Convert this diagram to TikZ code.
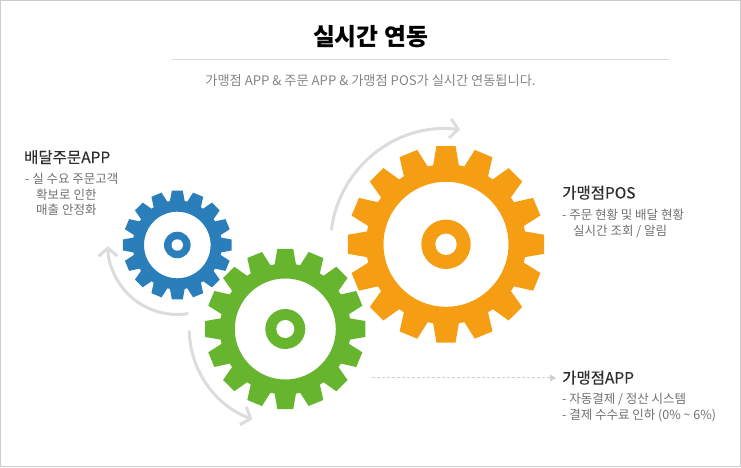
\documentclass[tikz,border=0pt]{standalone}
\usepackage{fontspec}
\setmainfont{Noto Sans CJK KR}
\newfontfamily\headfont[FakeBold=0.25]{Noto Sans CJK KR}
\usetikzlibrary{arrows.meta}
\definecolor{gblue}{HTML}{2A7FBA}
\definecolor{ggreen}{HTML}{67B52F}
\definecolor{gorange}{HTML}{F59E13}
\definecolor{arcgray}{HTML}{DCDCDC}
\definecolor{dashgray}{HTML}{CFCFCF}
\definecolor{framegray}{HTML}{CCCCCC}
\definecolor{bodygray}{HTML}{707070}
\definecolor{headdark}{HTML}{2E2E2E}
% #1 colour, #2 x, #3 y, #4 R tip, #5 r root, #6 half tip width, #7 half base width, #8 hole, #9 hub
\newcommand{\gearshape}[9]{%
  \pgfmathsetmacro{\tipang}{atan(#6/#4)}%
  \pgfmathsetmacro{\baseang}{atan(#7/#5)}%
  \fill[#1,even odd rule,shift={(#2,#3)}]
    (90-\baseang:#5)
    \foreach \k in {0,...,15}{
      \pgfextra{\pgfmathsetmacro{\aa}{90+22.5*\k}}
      -- (\aa-\baseang:#5) -- (\aa-\tipang:#4) -- (\aa+\tipang:#4) -- (\aa+\baseang:#5)
    } -- cycle
    (0,0) circle[radius=#8];
  \fill[#1,shift={(#2,#3)}] (0,0) circle[radius=#9];
}
\tikzset{
  x=1pt,y=1pt,
  bigarc/.style={draw=arcgray,line width=3pt,-{Straight Barb[length=8pt,width=19pt,line width=3pt]}},
  title/.style={anchor=base,inner sep=0pt,font=\fontsize{23.8}{24}\selectfont\bfseries,text=black},
  subtitle/.style={anchor=base,inner sep=0pt,font=\fontsize{13.2}{14}\selectfont,text=bodygray!85!white},
  head/.style={anchor=base west,inner sep=0pt,font=\headfont\fontsize{15.5}{16}\selectfont,text=headdark},
  body/.style={anchor=base west,inner sep=0pt,font=\fontsize{12.5}{13}\selectfont,text=bodygray},
  dashlink/.style={draw=dashgray,line width=1pt,dash pattern=on 3pt off 2pt,-{Triangle[length=6pt,width=7pt,fill=dashgray]}},
}
\begin{document}
\begin{tikzpicture}
\useasboundingbox (0,0) rectangle (741,468);
\draw[framegray,line width=1pt] (0.5,1.5) rectangle (740.5,467.5);
\draw[framegray!70!white,line width=1pt] (172,408) -- (669,408);
\node[title] (ttl) at (370.5,422) {실시간 연동};
\node[subtitle] (sub) at (370.5,382.8) {가맹점 APP \& 주문 APP \& 가맹점 POS가 실시간 연동됩니다.};
% gears
\gearshape{gblue}{177.3}{223}{54.7}{44.5}{5.5}{7.5}{33.3}{13.3}
\fill[white] (177.3,223) circle[radius=5.7];
\gearshape{gorange}{446}{223.7}{98.7}{80}{9.6}{13}{62.5}{24.7}
\fill[white] (446,223.7) circle[radius=10.7];
\gearshape{ggreen}{285.3}{139}{80.5}{65.5}{8}{10.8}{50.5}{20}
\fill[white] (285.3,139) circle[radius=9];
% arcs
\draw[bigarc] (446,223.7) ++(173:115.5) arc[start angle=173,end angle=83,radius=115.5];
\draw[bigarc] (285.3,139) ++(181:96) arc[start angle=181,end angle=250,radius=96];
\draw[bigarc] (177.3,223) ++(279:69.5) arc[start angle=279,end angle=181,radius=69.5];
% labels
\node[head] (h1) at (24,305) {배달주문APP};
\node[body] (b1a) at (25,284) {- 실 수요 주문고객};
\node[body] (b1b) at (36,268) {확보로 인한};
\node[body] (b1c) at (36,253) {매출 안정화};
\node[head] (h2) at (562,269.5) {가맹점POS};
\node[body] (b2a) at (562,248) {- 주문 현황 및 배달 현황};
\node[body] (b2b) at (573,232) {실시간 조회 / 알림};
\node[head] (h3) at (562,84.5) {가맹점APP};
\node[body] (b3a) at (562,64) {- 자동결제 / 정산 시스템};
\node[body] (b3b) at (562,48) {- 결제 수수료 인하 (0\% \textasciitilde{} 6\%)};
\coordinate (d0) at (372,90);
\coordinate (d1) at (556,90);
\draw[dashlink] (d0) -- (d1);
\end{tikzpicture}
\end{document}
